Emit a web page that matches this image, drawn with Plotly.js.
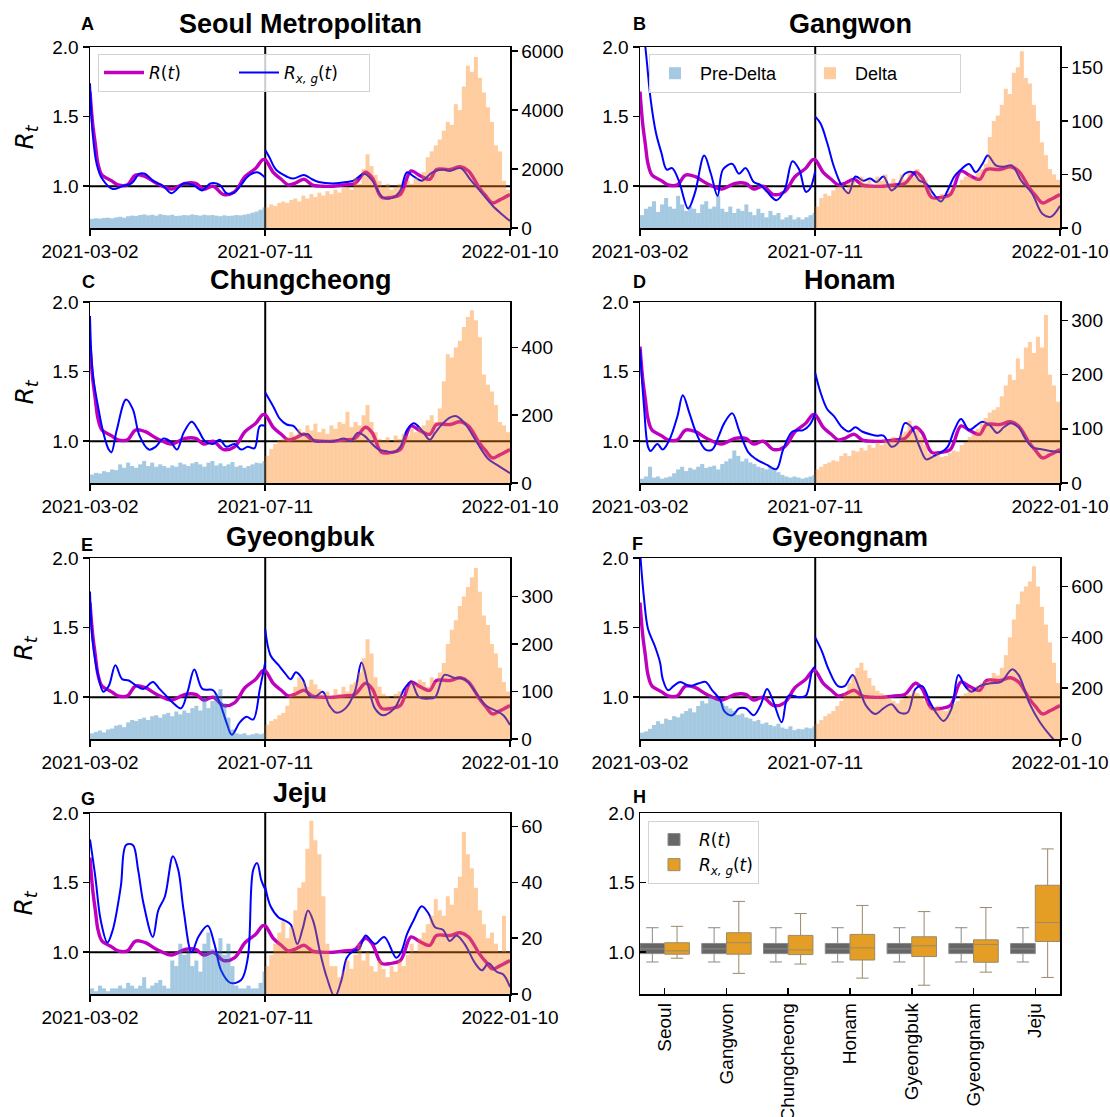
<!DOCTYPE html>
<html><head><meta charset="utf-8">
<script src="https://cdn.plot.ly/plotly-3.0.1.min.js"></script>
<style>body{margin:0;background:#fff}#chart{width:1110px;height:1117px}</style>
</head><body><div id="chart"></div>
<script>
// ---------------- DATA ----------------
const startDate = '2021-03-02';
const deltaStartDay = 131;          // 2021-07-11
const tickDates = ['2021-03-02', '2021-07-11', '2022-01-10'];
const regionTitles = ['Seoul Metropolitan', 'Gangwon', 'Chungcheong', 'Honam', 'Gyeongbuk', 'Gyeongnam', 'Jeju'];
const panelLetters = ['A', 'B', 'C', 'D', 'E', 'F', 'G', 'H'];
const boxCategories = ['Seoul', 'Gangwon', 'Chungcheong', 'Honam', 'Gyeongbuk', 'Gyeongnam', 'Jeju'];
const binDays = 3; // case counts are given in 3-day bins

// Shared R(t) (days since 2021-03-02)
const rtDays = [0,2,4,6,9,16,21,28,34,41,50,61,71,79,85,92,100,108,116,124,129,131,137,143,148,153,160,166,174,182,190,198,206,211,218,225,232,240,246,254,259,269,277,283,291,296,301,306,314];
const rtValues = [1.68,1.45,1.30,1.16,1.08,1.04,1.01,1.01,1.08,1.07,1.02,0.98,1.02,1.02,0.98,1.0,0.94,0.96,1.07,1.13,1.19,1.19,1.10,1.05,1.01,1.02,1.05,1.01,1.0,1.0,1.01,1.02,1.10,1.06,0.92,0.92,0.94,1.11,1.08,1.05,1.12,1.12,1.14,1.11,0.99,0.93,0.88,0.90,0.94];

// R_{x,g}(t) per region: pre-Delta part then Delta part (day 131 appears twice)
const seoulXgDays = [0,2,5,9,17,24,31,37,41,47,55,61,70,77,84,90,97,102,107,113,118,125,131, 131,134,139,147,152,160,166,171,182,192,197,205,211,219,227,232,237,242,248,256,264,269,277,285,293,301,309,314];
const seoulXgValues = [1.74,1.38,1.16,1.055,0.98,1.0,1.02,1.09,1.09,1.04,1.0,0.95,1.02,1.01,0.97,1.02,1.01,0.95,0.95,1.01,1.07,1.10,1.06, 1.26,1.21,1.12,1.07,1.055,1.08,1.05,1.03,1.02,1.03,1.04,1.09,1.04,0.92,0.92,0.97,1.10,1.07,1.04,1.10,1.12,1.11,1.13,1.04,0.95,0.86,0.79,0.75];

const gangwonXgDays = [0,4,8,12,16,20,24,29,36,41,48,53,58,62,69,74,79,85,90,95,102,108,114,119,124,127,131, 131,135,140,145,151,156,161,167,172,177,182,188,193,198,204,209,214,219,225,230,235,240,246,251,256,260,266,272,278,285,293,301,307,314];
const gangwonXgValues = [2.3,2.0,1.62,1.38,1.24,1.12,1.13,1.04,0.84,0.95,1.22,1.09,0.93,1.12,1.16,1.09,1.13,1.03,1.01,0.96,0.90,0.97,1.18,1.12,0.96,0.98,1.11, 1.50,1.45,1.31,1.14,1.0,0.95,1.07,1.04,1.055,1.03,1.07,0.97,1.01,1.09,1.10,1.04,1.02,0.95,0.89,0.97,1.07,1.12,1.16,1.10,1.16,1.22,1.15,1.14,1.15,1.04,0.95,0.80,0.78,0.86];

const chungXgDays = [0,2,6,10,14,16,20,27,32,37,44,49,55,60,65,70,76,81,86,92,97,102,108,113,118,123,127,131, 131,137,142,147,152,158,163,168,174,182,190,195,200,205,211,216,221,227,232,237,242,248,254,258,264,269,274,280,285,290,298,306,314];
const chungXgValues = [1.90,1.49,1.25,1.06,0.94,0.92,1.08,1.30,1.23,1.04,0.94,0.96,1.02,1.0,0.94,1.06,1.14,1.08,1.0,0.98,1.01,0.96,0.98,0.94,0.96,0.95,1.11,1.11, 1.35,1.25,1.16,1.12,1.11,1.05,1.05,1.0,1.0,1.0,1.02,1.0,1.06,1.04,0.98,0.94,0.93,0.92,0.96,1.08,1.13,1.08,1.01,1.06,1.13,1.17,1.18,1.13,1.06,0.98,0.87,0.82,0.77];

const honamXgDays = [0,3,6,8,13,17,22,28,32,37,42,49,54,59,63,69,74,81,87,95,102,107,114,122,127,131, 131,135,140,145,151,156,161,166,172,177,182,188,193,198,203,209,214,219,225,230,235,240,246,251,256,262,267,272,277,283,288,293,301,307,314];
const honamXgValues = [1.66,1.25,0.96,0.93,0.98,0.94,1.01,1.18,1.33,1.20,1.06,0.94,0.94,1.04,1.13,1.20,1.08,0.92,0.87,0.83,0.80,0.94,1.07,1.08,1.12,1.20, 1.49,1.35,1.23,1.18,1.10,1.07,1.10,1.07,1.05,1.04,1.04,0.96,0.99,1.13,1.10,0.96,0.87,0.89,0.92,0.96,1.08,1.16,1.08,1.11,1.14,1.11,1.06,1.10,1.13,1.10,1.02,0.96,0.94,0.93,0.92];

const gbukXgDays = [0,2,6,10,14,19,24,29,35,40,47,52,57,62,68,73,78,84,92,97,102,106,112,117,122,127,131, 131,135,141,146,150,154,159,164,168,174,179,184,191,198,203,208,213,219,224,229,235,240,246,253,258,265,272,280,288,296,304,309,314];
const gbukXgValues = [1.76,1.40,1.16,1.04,1.08,1.23,1.13,1.12,1.08,1.06,1.11,1.06,1.01,0.96,0.92,1.04,1.20,1.06,1.05,0.96,0.82,0.73,0.82,0.86,0.84,1.06,1.25, 1.49,1.30,1.23,1.17,1.13,1.18,1.13,1.01,1.0,1.04,0.94,0.89,0.92,1.04,1.25,1.08,0.92,0.87,0.89,0.94,1.06,1.11,1.0,0.99,1.0,1.16,1.14,1.13,1.04,0.94,0.90,0.87,0.80];

const gnamXgDays = [0,3,6,11,15,17,21,25,30,37,44,49,54,60,63,69,74,79,85,90,95,100,106,111,119,124,129,131, 131,136,141,148,153,159,164,169,176,182,188,194,200,206,211,217,222,227,233,238,243,248,254,262,270,278,283,291,299,307,314];
const gnamXgValues = [2.05,1.71,1.49,1.37,1.25,1.13,1.05,1.08,1.11,1.08,1.10,1.11,1.05,0.98,0.90,0.87,0.92,0.92,0.87,0.94,1.06,0.96,0.82,1.01,1.0,1.01,1.20,1.22, 1.43,1.33,1.20,1.08,1.08,1.16,1.06,0.94,0.88,0.92,0.95,0.89,0.89,1.06,1.08,0.96,0.88,0.83,0.92,1.16,1.08,1.04,1.08,1.10,1.11,1.20,1.16,0.96,0.82,0.72,0.65];

const jejuXgDays = [0,4,8,13,17,23,27,32,36,40,47,51,56,62,66,70,76,81,88,93,98,105,113,118,122,125,128,131, 131,135,141,145,150,155,159,163,167,172,177,183,188,192,197,201,206,213,220,229,233,237,242,248,253,258,264,269,274,280,288,293,298,304,309,314];
const jejuXgValues = [1.81,1.54,1.23,1.07,1.16,1.47,1.77,1.77,1.59,1.35,1.11,1.30,1.40,1.69,1.59,1.30,1.0,1.11,1.19,1.06,0.87,0.78,0.80,0.96,1.59,1.64,1.52,1.45, 1.47,1.33,1.25,1.23,1.20,1.06,1.17,1.30,1.22,1.0,0.82,0.68,0.80,0.96,1.01,1.02,1.12,1.06,1.11,0.96,1.01,1.13,1.23,1.33,1.28,1.18,1.16,1.08,1.12,1.06,0.92,0.87,0.92,0.86,0.84,0.75];

// Daily confirmed cases (3-day bins). Pre-Delta bins start at day 0, Delta bins at day 131.
const seoulPreCases = [310,330,320,340,350,330,360,380,350,400,420,410,440,460,430,450,420,470,440,430,450,410,420,440,430,460,440,420,450,430,440,420,400,430,410,420,440,430,450,480,520,560,620,700];
const seoulDeltaCases = [700,800,750,850,900,850,950,1000,900,1100,1000,1150,1050,1200,1100,1250,1150,1300,1200,1350,1400,1300,1700,1500,2000,2500,2100,1800,1600,1400,1500,1300,1400,1500,1350,1600,1500,1700,1600,1900,2400,2600,2800,3000,3300,3600,3500,4200,4000,4800,5500,5300,5800,5100,4600,4100,3600,2800,2600,1600,1300];

const gangwonPreCases = [12,18,20,25,15,22,28,20,18,30,22,16,20,18,14,22,25,18,20,30,18,15,20,14,18,16,22,15,12,18,14,10,16,12,14,8,10,12,8,10,8,10,12,14];
const gangwonDeltaCases = [20,28,32,30,35,38,40,36,42,45,40,48,42,45,40,48,44,50,42,46,40,50,45,52,48,55,50,45,38,30,28,32,30,35,38,40,45,48,50,46,52,55,60,85,100,105,115,130,125,145,150,165,140,135,115,100,80,68,55,50,45];

const chungPreCases = [25,30,28,35,32,40,38,55,45,60,50,45,55,65,50,60,48,55,50,45,52,48,60,55,50,58,62,55,48,60,65,52,58,50,55,62,48,52,45,50,55,60,58,65];
const chungDeltaCases = [80,100,115,125,130,135,150,140,160,150,170,155,175,150,160,145,170,160,180,175,210,165,180,170,200,230,180,150,130,125,135,120,140,130,145,140,160,150,165,170,185,200,180,220,300,380,370,400,420,460,490,510,480,430,320,290,270,230,180,170,150];

const honamPreCases = [8,12,30,10,12,8,10,12,18,25,30,22,28,25,30,35,28,30,32,25,35,40,45,60,50,40,45,38,35,30,28,25,30,25,20,15,12,10,12,10,8,10,12,15];
const honamDeltaCases = [25,30,35,38,42,40,50,55,50,60,58,65,60,70,65,75,70,80,78,85,80,90,95,115,95,100,85,70,55,50,55,48,50,55,60,58,70,75,85,90,100,110,120,130,135,140,160,180,200,190,230,210,250,260,240,270,250,310,200,180,150];

const gbukPreCases = [12,15,18,14,20,22,28,30,25,35,40,38,42,45,40,48,50,45,52,55,48,58,52,60,55,65,70,60,88,65,80,95,105,75,45,20,12,10,12,8,10,12,10,12];
const gbukDeltaCases = [30,38,42,50,55,70,95,110,130,120,110,125,115,105,95,100,90,105,95,110,100,115,120,140,170,210,180,130,110,95,90,85,95,100,90,110,120,115,125,120,110,130,120,140,160,200,230,250,280,300,320,340,360,310,260,240,200,180,150,120,100];

const gnamPreCases = [25,30,40,55,70,60,80,75,90,85,100,110,120,105,130,150,140,165,160,150,140,130,120,110,95,100,85,80,70,75,60,65,55,50,60,45,40,50,35,40,38,45,42,50];
const gnamDeltaCases = [60,75,90,100,110,130,150,180,220,250,280,300,270,240,210,190,180,170,160,150,140,155,160,175,190,180,170,150,130,120,130,115,110,120,140,150,170,180,200,190,210,220,230,240,260,250,280,330,400,470,530,580,600,620,680,600,520,450,380,300,220];

const jejuPreCases = [2,1,3,2,1,2,2,3,2,4,3,2,3,6,2,3,4,5,3,2,12,10,18,14,15,10,12,8,18,22,16,15,20,14,18,10,3,2,2,3,2,2,4,8];
const jejuDeltaCases = [10,14,18,22,26,20,24,30,38,40,52,62,55,50,35,18,10,10,6,8,12,9,14,18,12,15,10,8,12,9,6,10,8,12,10,14,18,15,20,22,25,28,34,30,28,35,32,38,42,58,50,45,38,30,25,20,22,18,15,28,15];

const caseAxisMax = [6140, 169, 534, 334, 381, 712, 64.8];
const caseAxisStep = [2000, 50, 200, 100, 100, 200, 20];

// Panel H box statistics
const rtBoxQ1 = [0.99,0.99,0.99,0.99,0.99,0.99,0.99];
const rtBoxMedian = [1.024,1.024,1.024,1.024,1.024,1.024,1.024];
const rtBoxQ3 = [1.063,1.063,1.063,1.063,1.063,1.063,1.063];
const rtBoxLow = [0.93,0.93,0.93,0.93,0.93,0.93,0.93];
const rtBoxHigh = [1.176,1.176,1.176,1.176,1.176,1.176,1.176];
const xgBoxQ1 = [0.986,0.986,0.983,0.944,0.969,0.928,1.077];
const xgBoxMedian = [1.01,1.068,1.017,1.031,1.046,1.056,1.213];
const xgBoxQ3 = [1.068,1.14,1.121,1.128,1.111,1.089,1.481];
const xgBoxLow = [0.957,0.848,0.915,0.814,0.763,0.857,0.819];
const xgBoxHigh = [1.186,1.365,1.278,1.336,1.292,1.321,1.742];

const regionXg = [
  [seoulXgDays, seoulXgValues], [gangwonXgDays, gangwonXgValues], [chungXgDays, chungXgValues],
  [honamXgDays, honamXgValues], [gbukXgDays, gbukXgValues], [gnamXgDays, gnamXgValues], [jejuXgDays, jejuXgValues]
];
const regionCases = [
  [seoulPreCases, seoulDeltaCases], [gangwonPreCases, gangwonDeltaCases], [chungPreCases, chungDeltaCases],
  [honamPreCases, honamDeltaCases], [gbukPreCases, gbukDeltaCases], [gnamPreCases, gnamDeltaCases], [jejuPreCases, jejuDeltaCases]
];

// ---------------- HELPERS ----------------
const DAY_MS = 86400000;
const T0 = Date.UTC(2021, 2, 2);
function dayToDate(d) {
  return new Date(T0 + d * DAY_MS).toISOString().slice(0, 19).replace('T', ' ');
}
const W = 1110, H = 1117;
const colDom = [[90 / W, 510 / W], [640 / W, 1060 / W]];
const rowPix = [[47, 228], [302, 483], [558, 739], [813, 994]];
const rowDom = rowPix.map(r => [1 - r[1] / H, 1 - r[0] / H]);
const titleY = [24, 280, 537, 793];
const letterPos = [[87, 24], [639, 24], [88, 282], [639, 282], [87, 545], [637, 544], [88, 799], [639, 797]];

const FONT = 'Liberation Sans, Arial, sans-serif';
const MATHFONT = 'DejaVu Sans, sans-serif';
const rtName = '<i>R</i>(<i>t</i>)';
const xgName = '<i>R</i><sub><i>x, g</i></sub>(<i>t</i>)';

const traces = [];
const layout = {
  width: W, height: H,
  margin: {l: 0, r: 0, t: 0, b: 0},
  paper_bgcolor: '#fff', plot_bgcolor: '#fff',
  font: {family: FONT, size: 19, color: '#000'},
  showlegend: true,
  boxmode: 'group', boxgap: 0.2, boxgroupgap: 0,
  shapes: [], annotations: [],
  legend: {x: 98 / W, y: 1 - 54 / H, xanchor: 'left', yanchor: 'top', orientation: 'h',
    bgcolor: 'rgba(255,255,255,0.8)', bordercolor: '#d3d3d3', borderwidth: 1,
    font: {family: MATHFONT, size: 17}, itemwidth: 40, entrywidth: 80, tracegroupgap: 0},
  legend2: {x: 649 / W, y: 1 - 54 / H, xanchor: 'left', yanchor: 'top', orientation: 'h',
    bgcolor: 'rgba(255,255,255,0.8)', bordercolor: '#d3d3d3', borderwidth: 1,
    font: {family: FONT, size: 18}, itemwidth: 40, entrywidth: 100},
  legend3: {x: 648 / W, y: 1 - 821 / H, xanchor: 'left', yanchor: 'top', orientation: 'v',
    bgcolor: 'rgba(255,255,255,0.8)', bordercolor: '#d3d3d3', borderwidth: 1,
    font: {family: MATHFONT, size: 17}, itemwidth: 40}
};

const axisCommon = {
  showline: true, linecolor: '#000', linewidth: 1.5, showgrid: false, zeroline: false,
  ticks: 'outside', ticklen: 6, tickwidth: 1.5, tickcolor: '#000',
  tickfont: {family: FONT, size: 19, color: '#000'}
};

for (let k = 0; k < 7; k++) {
  const col = k % 2, row = Math.floor(k / 2);
  const xn = k === 0 ? '' : String(k + 1);
  const yLn = k === 0 ? '' : String(2 * k + 1);
  const yRn = String(2 * k + 2);
  const xId = 'x' + xn, yLId = 'y' + yLn, yRId = 'y' + yRn;

  layout['xaxis' + xn] = Object.assign({}, axisCommon, {
    domain: colDom[col], anchor: yLId, type: 'date',
    range: [dayToDate(0), dayToDate(314)],
    tickmode: 'array', tickvals: tickDates, ticktext: tickDates, mirror: true
  });
  layout['yaxis' + yLn] = Object.assign({}, axisCommon, {
    domain: rowDom[row], anchor: xId, range: [0.7, 2.0],
    tickmode: 'array', tickvals: [1.0, 1.5, 2.0], ticktext: ['1.0', '1.5', '2.0']
  });
  layout['yaxis' + yRn] = Object.assign({}, axisCommon, {
    overlaying: yLId, side: 'right', anchor: xId, range: [0, caseAxisMax[k]],
    tickmode: 'linear', tick0: 0, dtick: caseAxisStep[k]
  });

  // R(t)
  traces.push({
    type: 'scatter', mode: 'lines', x: rtDays.map(dayToDate), y: rtValues,
    xaxis: xId, yaxis: yLId, name: rtName, legend: 'legend', showlegend: k === 0,
    line: {color: '#bf00bf', width: 3.4, shape: 'spline', smoothing: 1}, hoverinfo: 'skip'
  });
  // R_{x,g}(t): split at duplicated Delta start day
  const [xd, xv] = regionXg[k];
  let split = xd.length;
  for (let i = 1; i < xd.length; i++) if (xd[i] <= xd[i - 1]) { split = i; break; }
  [[0, split], [split, xd.length]].forEach((seg, si) => {
    traces.push({
      type: 'scatter', mode: 'lines',
      x: xd.slice(seg[0], seg[1]).map(dayToDate), y: xv.slice(seg[0], seg[1]),
      xaxis: xId, yaxis: yLId, name: xgName, legend: 'legend', showlegend: k === 0 && si === 0,
      line: {color: '#0000ff', width: 2, shape: 'spline', smoothing: 1}, hoverinfo: 'skip'
    });
  });
  // cases bars
  const [pre, del] = regionCases[k];
  const preStarts = pre.map((_, i) => i * binDays);
  const preWidths = preStarts.map(s => Math.min(binDays, deltaStartDay - s));
  traces.push({
    type: 'bar', x: preStarts.map((s, i) => dayToDate(s + preWidths[i] / 2)), y: pre,
    width: preWidths.map(w => w * DAY_MS),
    xaxis: xId, yaxis: yRId, name: 'Pre-Delta', legend: 'legend2', showlegend: k === 1,
    marker: {color: 'rgba(31,119,180,0.4)', line: {width: 0}}, hoverinfo: 'skip'
  });
  const delStarts = del.map((_, i) => deltaStartDay + i * binDays);
  const delWidths = delStarts.map(s => Math.min(binDays, 314 - s));
  traces.push({
    type: 'bar', x: delStarts.map((s, i) => dayToDate(s + delWidths[i] / 2)), y: del,
    width: delWidths.map(w => w * DAY_MS),
    xaxis: xId, yaxis: yRId, name: 'Delta', legend: 'legend2', showlegend: k === 1,
    marker: {color: 'rgba(255,127,14,0.4)', line: {width: 0}}, hoverinfo: 'skip'
  });

  // reference lines
  layout.shapes.push({type: 'line', xref: xId + ' domain', yref: yLId, x0: 0, x1: 1, y0: 1, y1: 1,
    line: {color: '#000', width: 2}, layer: 'below'});
  layout.shapes.push({type: 'line', xref: xId, yref: yLId + ' domain', x0: tickDates[1], x1: tickDates[1], y0: 0, y1: 1,
    line: {color: '#000', width: 2}, layer: 'below'});

  // title
  const cx = (colDom[col][0] + colDom[col][1]) / 2;
  layout.annotations.push({xref: 'paper', yref: 'paper', x: cx, y: 1 - titleY[row] / H,
    xanchor: 'center', yanchor: 'middle', showarrow: false,
    text: '<b>' + regionTitles[k] + '</b>', font: {family: FONT, size: 27, color: '#000'}});
  if (col === 0) {
    layout.annotations.push({xref: 'paper', yref: 'paper', x: 25 / W, y: (rowDom[row][0] + rowDom[row][1]) / 2,
      xanchor: 'center', yanchor: 'middle', showarrow: false, textangle: -90,
      text: '<i>R<sub>t</sub></i>', font: {family: MATHFONT, size: 25, color: '#000'}});
  }
}

// letters
panelLetters.forEach((L, i) => {
  layout.annotations.push({xref: 'paper', yref: 'paper', x: letterPos[i][0] / W, y: 1 - letterPos[i][1] / H,
    xanchor: 'center', yanchor: 'middle', showarrow: false,
    text: '<b>' + L + '</b>', font: {family: FONT, size: 18, color: '#000'}});
});

// Panel H
layout.xaxis8 = Object.assign({}, axisCommon, {
  domain: colDom[1], anchor: 'y15', type: 'category', categoryorder: 'array', categoryarray: boxCategories,
  range: [-0.4, 6.4], tickangle: -90, ticks: 'inside', mirror: true
});
layout.yaxis15 = Object.assign({}, axisCommon, {
  domain: rowDom[3], anchor: 'x8', range: [0.7, 2.0], ticks: 'inside', mirror: true,
  tickmode: 'array', tickvals: [1.0, 1.5, 2.0], ticktext: ['1.0', '1.5', '2.0']
});
traces.push({
  type: 'box', x: boxCategories, q1: rtBoxQ1, median: rtBoxMedian, q3: rtBoxQ3,
  lowerfence: rtBoxLow, upperfence: rtBoxHigh, boxpoints: false,
  xaxis: 'x8', yaxis: 'y15', name: rtName, legend: 'legend3', showlegend: true,
  fillcolor: '#676767', line: {color: '#8a8a8a', width: 1}, whiskerwidth: 0.5, hoverinfo: 'skip'
});
traces.push({
  type: 'box', x: boxCategories, q1: xgBoxQ1, median: xgBoxMedian, q3: xgBoxQ3,
  lowerfence: xgBoxLow, upperfence: xgBoxHigh, boxpoints: false,
  xaxis: 'x8', yaxis: 'y15', name: xgName, legend: 'legend3', showlegend: true,
  fillcolor: '#e49e26', line: {color: '#9a8a6a', width: 1}, whiskerwidth: 0.5, hoverinfo: 'skip'
});

Plotly.newPlot('chart', traces, layout, {staticPlot: true, displayModeBar: false});
</script>
</body></html>
